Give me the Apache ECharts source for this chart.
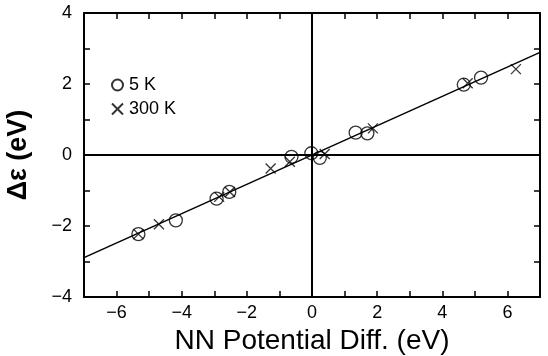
<!DOCTYPE html>
<html>
<head>
<meta charset="utf-8">
<script src="https://cdn.jsdelivr.net/npm/echarts@6/dist/echarts.min.js"></script>
<style>
  html, body { margin: 0; padding: 0; background: #fff; }
  #chart { width: 548px; height: 356px; }
</style>
</head>
<body>
<div id="chart"></div>
<script>
// 5 K points (circles)
var k5 = [
  [-5.33, -2.23], [-4.18, -1.84], [-2.93, -1.23], [-2.54, -1.04],
  [-0.63, -0.05], [-0.02, 0.05], [0.24, -0.08], [1.34, 0.63],
  [1.70, 0.61], [4.66, 1.98], [5.19, 2.18]
];
// 300 K points (crosses)
var k300 = [
  [-5.33, -2.23], [-4.70, -1.95], [-2.85, -1.18], [-2.52, -1.04],
  [-1.27, -0.38], [-0.68, -0.19], [0.39, 0.03], [1.87, 0.75],
  [4.78, 2.02], [6.26, 2.42]
];
// fitted line
var fitLine = [[-7, -2.89], [7, 2.89]];

var crossPath = 'path://M0,0L10,10M10,0L0,10';
var font = 'Liberation Sans, Arial, sans-serif';

function minus(v) { return String(v).replace('-', '\u2212'); }

var axisCommon = {
  type: 'value',
  interval: 1,
  axisLine: { show: true, onZero: false, lineStyle: { color: '#000', width: 2 } },
  axisTick: { show: true, inside: true, length: 6, lineStyle: { color: '#000', width: 1.5 } },
  splitLine: { show: false }
};

var option = {
  animation: false,
  grid: { left: 84, right: 8, top: 13, bottom: 59, outerBoundsMode: 'none', containLabel: false },
  legend: {
    orient: 'vertical',
    left: 106,
    top: 71,
    itemWidth: 11,
    itemHeight: 11,
    itemGap: 6,
    textStyle: { fontFamily: font, fontSize: 18, color: '#000', padding: [0, 0, 0, 1] },
    data: ['5 K', '300 K']
  },
  xAxis: [
    Object.assign({}, axisCommon, {
      min: -7, max: 7, position: 'bottom',
      name: 'NN Potential Diff. (eV)',
      nameLocation: 'middle', nameGap: 30,
      nameTextStyle: { fontFamily: font, fontSize: 28, color: '#000' },
      axisLabel: {
        fontFamily: font, fontSize: 18, color: '#000', margin: 7,
        formatter: function (v) { return v % 2 === 0 ? minus(v) : ''; }
      }
    }),
    Object.assign({}, axisCommon, {
      min: -7, max: 7, position: 'top', axisLabel: { show: false }
    })
  ],
  yAxis: [
    Object.assign({}, axisCommon, {
      min: -4, max: 4, position: 'left',
      name: '\u0394\u03b5 (eV)',
      nameLocation: 'middle', nameGap: 52,
      nameTextStyle: { fontFamily: font, fontSize: 27, fontWeight: 'bold', color: '#000' },
      axisLabel: {
        fontFamily: font, fontSize: 18, color: '#000', margin: 12,
        formatter: function (v) { return v % 2 === 0 ? minus(v) : ''; }
      }
    }),
    Object.assign({}, axisCommon, {
      min: -4, max: 4, position: 'right', axisLabel: { show: false }
    })
  ],
  series: [
    {
      name: 'fit',
      type: 'line',
      data: fitLine,
      symbol: 'none',
      lineStyle: { color: '#000', width: 1.5 },
      markLine: {
        silent: true,
        symbol: 'none',
        label: { show: false },
        lineStyle: { color: '#000', width: 2, type: 'solid' },
        data: [{ xAxis: 0 }, { yAxis: 0 }]
      }
    },
    {
      name: '5 K',
      type: 'scatter',
      data: k5,
      symbol: 'circle',
      symbolSize: 13,
      itemStyle: { color: 'transparent', borderColor: '#000', borderWidth: 1.3 }
    },
    {
      name: '300 K',
      type: 'scatter',
      data: k300,
      symbol: crossPath,
      symbolSize: 10,
      itemStyle: { color: 'transparent', borderColor: '#000', borderWidth: 1.3 }
    }
  ]
};

var myChart = echarts.init(document.getElementById('chart'));
myChart.setOption(option);
</script>
</body>
</html>
